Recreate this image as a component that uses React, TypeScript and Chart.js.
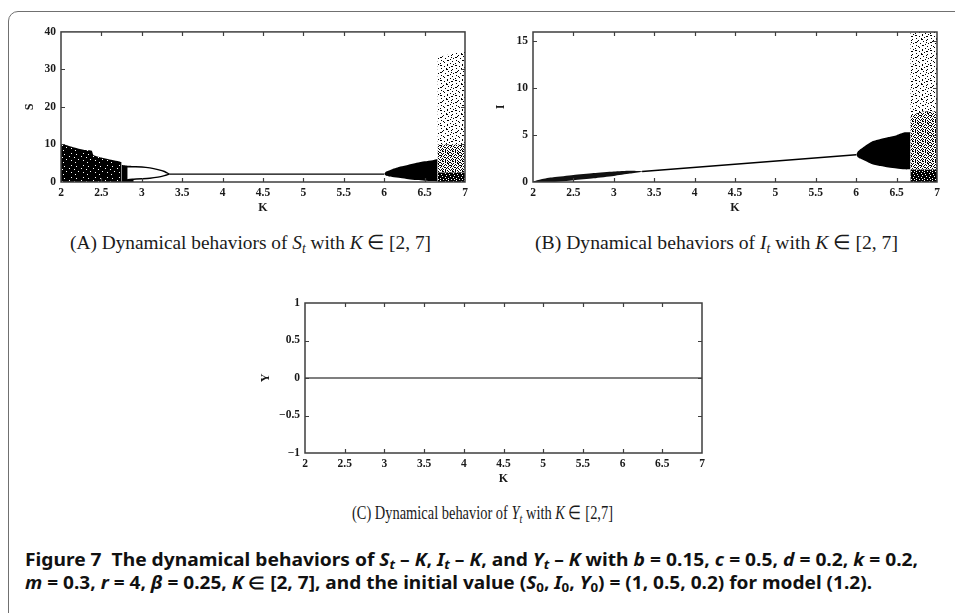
import React, { useEffect, useLayoutEffect, useRef } from "react";
import { Chart, registerables } from "chart.js";

Chart.register(...registerables);

// ---------------- data ----------------
const K_MIN = 2;
const K_MAX = 7;
const K_STEP = 0.5;

// Panel A : S_t versus K
const A_K_LEFT = [2.0, 2.05, 2.1, 2.2, 2.3, 2.38, 2.4, 2.45, 2.5, 2.6, 2.7, 2.75];
const A_S_LEFT_TOP = [10.2, 9.9, 9.6, 9.0, 8.5, 8.3, 7.2, 6.8, 6.5, 6.0, 5.6, 5.3];
const A_S_LEFT_BOTTOM = [0, 0, 0, 0, 0, 0, 0, 0, 0, 0, 0, 0];
const A_K_BLOCK = [2.75, 2.8, 2.85, 2.9];
const A_S_BLOCK_TOP = [4.6, 4.4, 4.3, 4.2];
const A_S_BLOCK_BOTTOM = [0, 0, 0, 0];
const A_K_LENS = [2.82, 2.85, 2.9, 3.0, 3.1, 3.2, 3.28, 3.34];
const A_S_LENS_UPPER = [4.0, 4.05, 4.05, 4.0, 3.75, 3.3, 2.8, 2.1];
const A_S_LENS_LOWER = [0.6, 0.7, 0.75, 0.85, 1.0, 1.3, 1.7, 2.1];
const A_K_FIXED = [3.34, 6.0];
const A_S_FIXED = [2.1, 2.1];
const A_K_WEDGE = [6.0, 6.02, 6.05, 6.1, 6.2, 6.3, 6.4, 6.5, 6.6, 6.66];
const A_S_WEDGE_TOP = [2.1, 2.7, 3.0, 3.4, 4.1, 4.6, 5.1, 5.5, 5.8, 6.1];
const A_S_WEDGE_BOTTOM = [2.1, 1.7, 1.5, 1.3, 1.05, 0.75, 0.5, 0.35, 0.25, 0.2];
const A_K_CHAOS = [6.66, 6.8, 6.9, 7.0];
const A_S_CHAOS_TOP = [33.2, 34.0, 34.5, 35.0];
const A_S_CHAOS_MID = [10, 10, 10, 10];
const A_S_CHAOS_LOW = [2.5, 2.5, 2.5, 2.5];
const A_S_CHAOS_FLOOR = [0, 0, 0, 0];
const A_S_TICKS = { min: 0, max: 40, step: 10 };

// Panel B : I_t versus K
const B_K_BAND = [2.0, 2.1, 2.25, 2.5, 2.75, 3.0, 3.2, 3.35];
const B_I_BAND_TOP = [0.05, 0.3, 0.5, 0.75, 0.95, 1.12, 1.2, 1.15];
const B_I_BAND_BOTTOM = [0, 0, 0.0, 0.2, 0.4, 0.65, 0.9, 1.1];
const B_K_FIXED = [3.35, 6.0];
const B_I_FIXED = [1.13, 2.9];
const B_K_WEDGE = [6.0, 6.02, 6.05, 6.1, 6.2, 6.3, 6.4, 6.5, 6.6, 6.67];
const B_I_WEDGE_TOP = [2.9, 3.25, 3.5, 3.8, 4.35, 4.6, 4.8, 5.0, 5.3, 5.3];
const B_I_WEDGE_BOTTOM = [2.9, 2.65, 2.5, 2.3, 1.9, 1.7, 1.55, 1.45, 1.35, 1.35];
const B_K_CHAOS = [6.67, 6.8, 6.9, 7.0];
const B_I_CHAOS_TOP = [16.5, 16.5, 16.5, 16.5];
const B_I_CHAOS_MID = [7, 7.5, 7.5, 7.5];
const B_I_CHAOS_LOW = [1.3, 1.3, 1.3, 1.3];
const B_I_CHAOS_FLOOR = [0, 0, 0, 0];
const B_I_TICKS = { min: 0, max: 16, step: 5 };

// Panel C : Y_t versus K
const C_K = [2, 7];
const C_Y = [0, 0];
const C_Y_TICKS = { min: -1, max: 1, step: 0.5 };

// ---------------- texture tiles (style only) ----------------
const TILE_SPARSE = [
  "##.....#.......",
  "....#......##..",
  ".........#.....",
  ".#....#........",
  "......##....#..",
  "...#.......#...",
  "..#.....#......",
  "##.........#...",
  ".....#.......#.",
  "..........#....",
  ".#.....##......",
  "...#........#..",
  "....#..........",
  "#.........#....",
  ".......#.....#.",
];
const TILE_MEDIUM = [
  "#.#..#.#..",
  "..##.#..#.",
  "#....#.#.#",
  ".#.#...##.",
  "..#..#..#.",
  "##..#.#..#",
  ".#.#....#.",
  "#...##.#..",
  "..#...#.#.",
  ".#.#.#...#",
];
const TILE_DENSE = [
  "####.###",
  "#.######",
  "#####.##",
  "##.#####",
  "######.#",
  "#.######",
  "####.###",
  "##.####.",
];
const TILE_SPECKLE = [
  "############",
  "###.########",
  "########.###",
  "############",
  "#.##########",
  "######.#####",
  "############",
  "##########.#",
  "###.########",
  "############",
  "#######.####",
  "############",
];

const SERIF = "'Liberation Serif', 'Times New Roman', serif";
const TICK_FONT = { family: SERIF, size: 11.5, weight: "bold" as const };
const TITLE_FONT = { family: SERIF, size: 12, weight: "bold" as const };
const AXIS_COLOR = "#3e3e3e";

function makePattern(ctx: CanvasRenderingContext2D, tile: string[]) {
  const h = tile.length;
  const w = tile[0].length;
  const c = document.createElement("canvas");
  c.width = w;
  c.height = h;
  const g = c.getContext("2d")!;
  g.fillStyle = "#000";
  tile.forEach((row, y) => {
    for (let x = 0; x < row.length; x++) if (row[x] === "#") g.fillRect(x, y, 1, 1);
  });
  return ctx.createPattern(c, "repeat");
}

function pts(k: number[], v: number[]) {
  return k.map((x, i) => ({ x, y: v[i] }));
}

function band(k: number[], top: number[], bottom: number[], fill: any, order: number) {
  return [
    { data: pts(k, top), fill: "+1", backgroundColor: fill, borderColor: "rgba(0,0,0,0)", borderWidth: 0, pointRadius: 0, order, tension: 0.2 },
    { data: pts(k, bottom), fill: false, borderColor: "rgba(0,0,0,0)", borderWidth: 0, pointRadius: 0, order, tension: 0.2 },
  ];
}

function curve(k: number[], v: number[], color: string, width: number, order: number, tension = 0.3) {
  return { data: pts(k, v), fill: false, borderColor: color, borderWidth: width, pointRadius: 0, order, tension };
}

const framePlugin = {
  id: "frame",
  afterDatasetsDraw(chart: any) {
    const { ctx, chartArea } = chart;
    const { left, right, top, bottom } = chartArea;
    const xs = chart.scales.x;
    const ys = chart.scales.y;
    ctx.save();
    ctx.strokeStyle = AXIS_COLOR;
    ctx.lineWidth = 1.5;
    ctx.strokeRect(left, top, right - left, bottom - top);
    ctx.lineWidth = 1.2;
    const L = 4;
    ctx.beginPath();
    xs.ticks.forEach((t: any) => {
      const p = Math.round(xs.getPixelForValue(t.value)) + 0.5;
      if (p <= left + 2 || p >= right - 2) return;
      ctx.moveTo(p, bottom);
      ctx.lineTo(p, bottom - L);
      ctx.moveTo(p, top);
      ctx.lineTo(p, top + L);
    });
    ys.ticks.forEach((t: any) => {
      const p = Math.round(ys.getPixelForValue(t.value)) + 0.5;
      if (p <= top + 2 || p >= bottom - 2) return;
      ctx.moveTo(left, p);
      ctx.lineTo(left + L, p);
      ctx.moveTo(right, p);
      ctx.lineTo(right - L, p);
    });
    ctx.stroke();
    ctx.restore();
  },
};

interface PanelCfg {
  yMin: number;
  yMax: number;
  yStep: number;
  yTitle: string;
  padTop: number;
  padRight: number;
  yWidth: number;
  yTitlePad: number;
  xHeight: number;
}

const fmt = (v: any) => String(Number(v)).replace("-", "\u2212");

function buildOptions(cfg: PanelCfg) {
  return {
    animation: false,
    responsive: false,
    maintainAspectRatio: false,
    events: [],
    layout: { padding: { top: cfg.padTop, right: cfg.padRight, left: 0, bottom: 0 } },
    plugins: { legend: { display: false }, tooltip: { enabled: false } },
    scales: {
      x: {
        type: "linear",
        min: K_MIN,
        max: K_MAX,
        grid: { display: false, drawTicks: false },
        border: { display: false },
        ticks: { stepSize: K_STEP, font: TICK_FONT, color: "#1a1a1a", padding: 4, maxRotation: 0, autoSkip: false, includeBounds: false, callback: fmt },
        title: { display: true, text: "K", font: TITLE_FONT, color: "#1a1a1a", padding: 0 },
        afterFit: (s: any) => {
          s.height = cfg.xHeight;
        },
      },
      y: {
        type: "linear",
        min: cfg.yMin,
        max: cfg.yMax,
        grid: { display: false, drawTicks: false },
        border: { display: false },
        ticks: { stepSize: cfg.yStep, font: TICK_FONT, color: "#1a1a1a", padding: 5, autoSkip: false, includeBounds: false, callback: fmt },
        title: { display: true, text: cfg.yTitle, font: TITLE_FONT, color: "#1a1a1a", padding: { top: cfg.yTitlePad, bottom: 0 } },
        afterFit: (s: any) => {
          s.width = cfg.yWidth;
        },
      },
    },
  };
}

function Panel(props: { left: number; top: number; width: number; height: number; cfg: PanelCfg; datasets: (ctx: CanvasRenderingContext2D) => any[] }) {
  const ref = useRef<HTMLCanvasElement>(null);
  useEffect(() => {
    const canvas = ref.current!;
    const ctx = canvas.getContext("2d")!;
    const chart = new Chart(ctx, {
      type: "line",
      data: { datasets: props.datasets(ctx) },
      options: buildOptions(props.cfg) as any,
      plugins: [framePlugin],
    });
    return () => chart.destroy();
  }, []);
  return (
    <canvas
      ref={ref}
      width={props.width}
      height={props.height}
      style={{ position: "absolute", left: props.left, top: props.top, width: props.width, height: props.height }}
    />
  );
}

function datasetsA(ctx: CanvasRenderingContext2D) {
  const speckle = makePattern(ctx, TILE_SPECKLE);
  const sparse = makePattern(ctx, TILE_SPARSE);
  const medium = makePattern(ctx, TILE_MEDIUM);
  const dense = makePattern(ctx, TILE_DENSE);
  return [
    curve(A_K_LENS, A_S_LENS_UPPER, "#000", 1.4, 1),
    curve(A_K_LENS, A_S_LENS_LOWER, "#000", 1.4, 1),
    curve(A_K_FIXED, A_S_FIXED, "#000", 1.4, 1, 0),
    ...band(A_K_LENS, A_S_LENS_UPPER, A_S_LENS_LOWER, "#ffffff", 2),
    ...band(A_K_LEFT, A_S_LEFT_TOP, A_S_LEFT_BOTTOM, speckle, 3),
    ...band(A_K_BLOCK, A_S_BLOCK_TOP, A_S_BLOCK_BOTTOM, "#000", 3),
    ...band(A_K_WEDGE, A_S_WEDGE_TOP, A_S_WEDGE_BOTTOM, "#000", 3),
    ...band(A_K_CHAOS, A_S_CHAOS_TOP, A_S_CHAOS_MID, sparse, 3),
    ...band(A_K_CHAOS, A_S_CHAOS_MID, A_S_CHAOS_LOW, medium, 3),
    ...band(A_K_CHAOS, A_S_CHAOS_LOW, A_S_CHAOS_FLOOR, dense, 3),
  ];
}

function datasetsB(ctx: CanvasRenderingContext2D) {
  const sparse = makePattern(ctx, TILE_SPARSE);
  const medium = makePattern(ctx, TILE_MEDIUM);
  const dense = makePattern(ctx, TILE_DENSE);
  return [
    curve(B_K_FIXED, B_I_FIXED, "#000", 1.5, 1, 0),
    ...band(B_K_BAND, B_I_BAND_TOP, B_I_BAND_BOTTOM, "#111", 3),
    ...band(B_K_WEDGE, B_I_WEDGE_TOP, B_I_WEDGE_BOTTOM, "#000", 3),
    ...band(B_K_CHAOS, B_I_CHAOS_TOP, B_I_CHAOS_MID, sparse, 3),
    ...band(B_K_CHAOS, B_I_CHAOS_MID, B_I_CHAOS_LOW, medium, 3),
    ...band(B_K_CHAOS, B_I_CHAOS_LOW, B_I_CHAOS_FLOOR, dense, 3),
  ];
}

function datasetsC() {
  return [curve(C_K, C_Y, "#555", 1.6, 1, 0)];
}

function FitText(props: { x: number; top: number; width: number; center?: boolean; style: React.CSSProperties; children: React.ReactNode }) {
  const ref = useRef<HTMLDivElement>(null);
  useLayoutEffect(() => {
    const el = ref.current;
    if (!el) return;
    el.style.transform = "none";
    const w = el.getBoundingClientRect().width;
    if (w > 0) el.style.transform = `scaleX(${props.width / w})`;
  }, [props.width]);
  const left = props.center ? props.x - props.width / 2 : props.x;
  return (
    <div ref={ref} style={{ position: "absolute", left, top: props.top, whiteSpace: "nowrap", transformOrigin: "0 0", ...props.style }}>
      {props.children}
    </div>
  );
}

const subStyle: React.CSSProperties = { fontSize: "0.7em", verticalAlign: "-0.28em", lineHeight: 0 };
const Sub = ({ children }: { children: React.ReactNode }) => <span style={subStyle}>{children}</span>;

const CAPTION_STYLE: React.CSSProperties = { fontFamily: SERIF, fontSize: 19.5, lineHeight: "22px", color: "#1a1a1a" };
const CAPTION_C_STYLE: React.CSSProperties = { fontFamily: SERIF, fontSize: 18.5, lineHeight: "22px", color: "#1a1a1a" };
const FIG_STYLE: React.CSSProperties = { fontFamily: "'Noto Sans', 'Open Sans', sans-serif", fontWeight: 700, fontSize: 17, lineHeight: "22px", color: "#111" };

export default function App() {
  return (
    <div style={{ position: "absolute", left: 0, top: 0, width: 955, height: 613, overflow: "hidden", background: "#fff" }}>
      <div
        style={{
          position: "absolute",
          left: 8,
          top: 11,
          width: 1000,
          height: 640,
          border: "1.3px solid #707070",
          borderRadius: 10,
          boxSizing: "border-box",
        }}
      />
      <Panel
        left={20}
        top={20}
        width={460}
        height={195}
        cfg={{ yMin: A_S_TICKS.min, yMax: A_S_TICKS.max, yStep: A_S_TICKS.step, yTitle: "S", padTop: 11, padRight: 15, yWidth: 41, yTitlePad: 3, xHeight: 33 }}
        datasets={datasetsA}
      />
      <Panel
        left={480}
        top={20}
        width={475}
        height={195}
        cfg={{ yMin: B_I_TICKS.min, yMax: B_I_TICKS.max, yStep: B_I_TICKS.step, yTitle: "I", padTop: 12, padRight: 18, yWidth: 53, yTitlePad: 14, xHeight: 33 }}
        datasets={datasetsB}
      />
      <Panel
        left={250}
        top={290}
        width={467}
        height={196}
        cfg={{ yMin: C_Y_TICKS.min, yMax: C_Y_TICKS.max, yStep: C_Y_TICKS.step, yTitle: "Y", padTop: 13, padRight: 15, yWidth: 55, yTitlePad: 9, xHeight: 33 }}
        datasets={datasetsC}
      />

      <FitText x={250.5} top={232} width={361} center style={CAPTION_STYLE}>
        (A) Dynamical behaviors of <i>S</i>
        <Sub>
          <i>t</i>
        </Sub>{" "}
        with <i>K</i> ∈ [2, 7]
      </FitText>
      <FitText x={716.5} top={232} width={363} center style={CAPTION_STYLE}>
        (B) Dynamical behaviors of <i>I</i>
        <Sub>
          <i>t</i>
        </Sub>{" "}
        with <i>K</i> ∈ [2, 7]
      </FitText>
      <FitText x={482.5} top={502} width={261} center style={CAPTION_C_STYLE}>
        (C) Dynamical behavior of <i>Y</i>
        <Sub>
          <i>t</i>
        </Sub>{" "}
        with <i>K</i> ∈ [2,7]
      </FitText>

      <FitText x={25} top={549} width={893} style={FIG_STYLE}>
        Figure 7&nbsp;&nbsp;The dynamical behaviors of <i>S</i>
        <Sub>
          <i>t</i>
        </Sub>{" "}
        – <i>K</i>, <i>I</i>
        <Sub>
          <i>t</i>
        </Sub>{" "}
        – <i>K</i>, and <i>Y</i>
        <Sub>
          <i>t</i>
        </Sub>{" "}
        – <i>K</i> with <i>b</i> = 0.15, <i>c</i> = 0.5, <i>d</i> = 0.2, <i>k</i> = 0.2,
      </FitText>
      <FitText x={25} top={572} width={847} style={FIG_STYLE}>
        <i>m</i> = 0.3, <i>r</i> = 4, <i>β</i> = 0.25, <i>K</i> ∈ [2, 7], and the initial value (<i>S</i>
        <Sub>0</Sub>, <i>I</i>
        <Sub>0</Sub>, <i>Y</i>
        <Sub>0</Sub>) = (1, 0.5, 0.2) for model (1.2).
      </FitText>
    </div>
  );
}
